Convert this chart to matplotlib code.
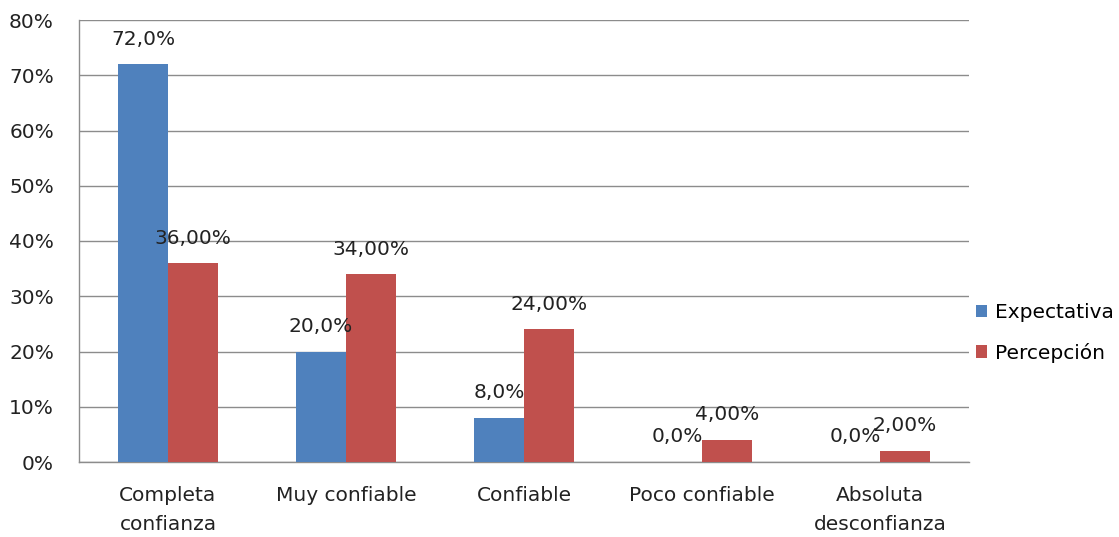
import matplotlib
matplotlib.use("Agg")
import matplotlib.pyplot as plt
import numpy as np

categories = ["Completa\nconfianza", "Muy confiable", "Confiable", "Poco confiable", "Absoluta\ndesconfianza"]
expectativa = [72.0, 20.0, 8.0, 0.0, 0.0]
percepcion = [36.0, 34.0, 24.0, 4.0, 2.0]
exp_labels = ["72,0%", "20,0%", "8,0%", "0,0%", "0,0%"]
per_labels = ["36,00%", "34,00%", "24,00%", "4,00%", "2,00%"]
yticks = [0, 10, 20, 30, 40, 50, 60, 70, 80]
ytick_labels = ["0%", "10%", "20%", "30%", "40%", "50%", "60%", "70%", "80%"]
series_names = ["Expectativa", "Percepción"]

plt.rcParams['font.family'] = ['DejaVu Sans']
FS = 14.5
W, H = 1119, 537
fig = plt.figure(figsize=(W / 100, H / 100), dpi=100)
ax = fig.add_axes([79 / W, (H - 462) / H, 890 / W, 442 / H])

x = np.arange(len(categories))
bw = 50 / 178
blue = "#4F81BD"
red = "#C0504D"
b1 = ax.bar(x - bw / 2, expectativa, bw, color=blue, label=series_names[0], zorder=3)
b2 = ax.bar(x + bw / 2, percepcion, bw, color=red, label=series_names[1], zorder=3)

for rect, lab in zip(b1, exp_labels):
    ax.annotate(lab, (rect.get_x() + rect.get_width() / 2, rect.get_height()),
                xytext=(0, 18), textcoords="offset points", ha="center", va="center",
                fontsize=FS, color="#222222", zorder=5)
for rect, lab in zip(b2, per_labels):
    ax.annotate(lab, (rect.get_x() + rect.get_width() / 2, rect.get_height()),
                xytext=(0, 18), textcoords="offset points", ha="center", va="center",
                fontsize=FS, color="#222222", zorder=5)

ax.set_xlim(-0.5, len(categories) - 0.5)
ax.set_ylim(0, 80)
ax.set_yticks(yticks)
ax.set_yticklabels(ytick_labels, fontsize=FS, color="#222222")
ax.set_xticks(x)
ax.set_xticklabels(categories, fontsize=FS, color="#222222", linespacing=1.7, va="top")
ax.tick_params(axis="both", length=0)
ax.tick_params(axis="y", pad=18)
ax.tick_params(axis="x", pad=17)
ax.yaxis.grid(True, color="#8c8c8c", linewidth=1.0, zorder=0)
ax.set_axisbelow(True)
for s in ["top", "right"]:
    ax.spines[s].set_visible(False)
for s in ["left", "bottom"]:
    ax.spines[s].set_color("#8c8c8c")
    ax.spines[s].set_linewidth(1.0)

leg = fig.legend(handles=[b1, b2], labels=series_names, loc="center left",
                 bbox_to_anchor=(970 / W, 1 - 333 / H), frameon=False, fontsize=FS,
                 handlelength=0.55, handleheight=0.55, handletextpad=0.4, labelspacing=1.0,
                 borderaxespad=0, borderpad=0.3)

fig.savefig("out.png", dpi=100)
